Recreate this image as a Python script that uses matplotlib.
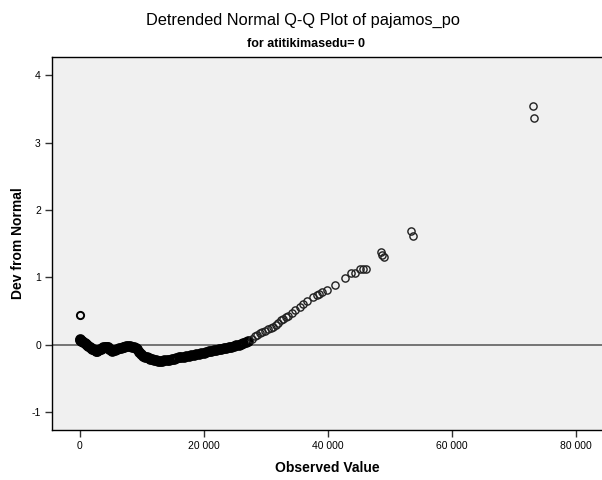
import matplotlib
matplotlib.use("Agg")
import matplotlib.pyplot as plt
from matplotlib.ticker import FuncFormatter

# dense part of the curve (observed value, deviation from normal)
dense_x = [0, 0, 200, 400, 600, 800, 1000, 1200, 1400, 1600, 1800, 2000, 2200,
           2400, 2600, 2800, 3000, 3200, 3400, 3600, 3800, 4000, 4200, 4400, 4600,
           4800, 5000, 5200, 5400, 5700, 6000, 6300, 6600, 6900, 7200, 7500, 7800,
           8100, 8400, 8700, 9000, 9300, 9600, 9900, 10200, 10500, 10800, 11100,
           11400, 11700, 12000, 12300, 12600, 12900, 13200, 13600, 14000, 14400,
           14800, 15200, 15600, 16000, 16400, 16800, 17200, 17600, 18000, 18400,
           18800, 19200, 19600, 20000, 20400, 20800, 21200, 21600, 22000, 22400,
           22800, 23200, 23600, 24000, 24400, 24800, 25200, 25600, 26000, 26400,
           26800, 27200]
dense_y = [0.09, 0.07, 0.06, 0.05, 0.04, 0.03, 0.01, -0.005, -0.02, -0.03,
           -0.045, -0.06, -0.07, -0.08, -0.09, -0.09, -0.08, -0.07, -0.06, -0.05,
           -0.04, -0.035, -0.03, -0.03, -0.04, -0.06, -0.08, -0.09, -0.085, -0.075,
           -0.065, -0.055, -0.045, -0.035, -0.03, -0.025, -0.025, -0.025, -0.03,
           -0.035, -0.045, -0.07, -0.11, -0.14, -0.16, -0.175, -0.185, -0.195,
           -0.205, -0.215, -0.225, -0.23, -0.235, -0.235, -0.235, -0.23, -0.225,
           -0.22, -0.21, -0.205, -0.195, -0.185, -0.18, -0.175, -0.165, -0.16,
           -0.15, -0.145, -0.14, -0.13, -0.125, -0.115, -0.11, -0.1, -0.095,
           -0.085, -0.08, -0.07, -0.06, -0.055, -0.045, -0.035, -0.03, -0.02,
           -0.01, 0.0, 0.01, 0.02, 0.035, 0.05]

# lone low value sitting above the curve
low_x = [0]
low_y = [0.44]

# sparse upper tail
tail_x = [27700, 28200, 28600, 29000, 29400, 29800, 30400, 30800, 31200, 31600,
          32000, 32400, 32800, 33200, 33600, 34200, 34700, 35500, 36000, 36600,
          37600, 38200, 38600, 39000, 39800, 41100, 42700, 43800, 44400, 45200,
          45700, 46100, 48550, 48800, 49100, 53400, 53650, 73050, 73200]
tail_y = [0.085, 0.13, 0.15, 0.17, 0.19, 0.21, 0.235, 0.25, 0.27, 0.3, 0.33, 0.36,
          0.38, 0.41, 0.43, 0.47, 0.515, 0.565, 0.61, 0.655, 0.71, 0.74, 0.76,
          0.79, 0.815, 0.89, 0.99, 1.06, 1.06, 1.12, 1.13, 1.13, 1.37, 1.33, 1.3,
          1.69, 1.615, 3.55, 3.36]

fig = plt.figure(figsize=(6.02, 4.8), dpi=100)
ax = fig.add_axes([52 / 602, 1 - 430 / 480, 1 - 52 / 602, (430 - 57) / 480])
ax.set_facecolor('#f0f0f0')

ax.axhline(0, color='#6a6a6a', lw=1.3, zorder=1)
ax.plot(dense_x, dense_y, 'o', ms=5.6, mfc='none', mec='black', mew=2.1, zorder=2)
ax.plot(low_x, low_y, 'o', ms=5.2, mfc='none', mec='black', mew=1.4, zorder=2)
ax.plot(tail_x, tail_y, 'o', ms=5.2, mfc='none', mec='#202020', mew=1.0, zorder=2)

ax.set_xlim(-4470, 84200)
ax.set_ylim(-1.265, 4.27)
ax.set_xticks([0, 20000, 40000, 60000, 80000])
ax.set_yticks([-1, 0, 1, 2, 3, 4])
ax.xaxis.set_major_formatter(FuncFormatter(lambda v, p: f"{int(v):,}".replace(",", " ")))
ax.yaxis.set_major_formatter(FuncFormatter(lambda v, p: f"{int(v)}"))

narrow = ['Liberation Sans Narrow', 'Liberation Sans', 'DejaVu Sans']
for lab in ax.get_xticklabels() + ax.get_yticklabels():
    lab.set_family(narrow)
    lab.set_fontsize(7.5)
ax.tick_params(direction='out', length=5, width=1, color='#333333', pad=3)

ax.spines['right'].set_visible(False)
for s in ['left', 'bottom', 'top']:
    ax.spines[s].set_linewidth(1)
    ax.spines[s].set_color('black')

ax.set_xlabel('Observed Value', fontsize=10, fontweight='bold',
              family=['Liberation Sans', 'DejaVu Sans'], labelpad=7)
ax.set_ylabel('Dev from Normal', fontsize=10, fontweight='bold',
              family=['Liberation Sans', 'DejaVu Sans'], labelpad=5)

fig.text(0.503, 1 - 20 / 480, 'Detrended Normal Q-Q Plot of pajamos_po', ha='center',
         va='center', fontsize=11.8, family=['Liberation Sans', 'DejaVu Sans'])
fig.text(0.508, 1 - 44 / 480, 'for atitikimasedu= 0', ha='center', va='center',
         fontsize=9, fontweight='bold', family=narrow)

fig.savefig('out.png', dpi=100)
